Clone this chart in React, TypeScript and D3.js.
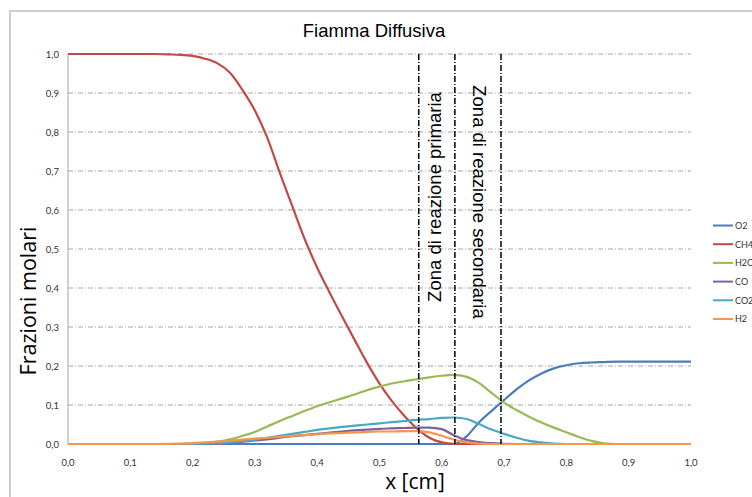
import React from "react";
import * as d3 from "d3";

const X = [0,0.02,0.04,0.06,0.08,0.1,0.12,0.14,0.16,0.18,0.2,0.22,0.24,0.26,0.28,0.3,0.32,0.34,0.36,0.38,0.4,0.42,0.44,0.46,0.48,0.5,0.52,0.54,0.56,0.58,0.6,0.62,0.64,0.66,0.68,0.7,0.72,0.74,0.76,0.78,0.8,0.82,0.84,0.86,0.88,0.9,0.92,0.94,0.96,0.98,1.0];

const O2 = [0,0,0,0,0,0,0,0,0,0,0,0,0,0,0,0,0,0,0,0,0,0,0,0,0,0,0,0,0,0,0,0,0.02,0.056,0.085,0.113,0.14,0.163,0.181,0.194,0.202,0.207,0.209,0.21,0.211,0.211,0.211,0.211,0.211,0.211,0.211];
const CH4 = [1,1,1,1,1,1,1,1,0.999,0.998,0.995,0.988,0.976,0.952,0.908,0.855,0.785,0.695,0.61,0.525,0.452,0.388,0.327,0.267,0.208,0.155,0.11,0.072,0.04,0.016,0.004,0.0005,0,0,0,0,0,0,0,0,0,0,0,0,0,0,0,0,0,0,0];
const H2O = [0,0,0,0,0,0,0,0,0,0,0.001,0.002,0.006,0.012,0.021,0.031,0.045,0.059,0.072,0.085,0.097,0.107,0.117,0.127,0.138,0.147,0.155,0.161,0.166,0.171,0.175,0.177,0.172,0.156,0.131,0.106,0.087,0.07,0.055,0.042,0.03,0.018,0.008,0.002,0,0,0,0,0,0,0];
const CO = [0,0,0,0,0,0,0,0,0,0,0,0,0.001,0.003,0.006,0.009,0.012,0.016,0.02,0.023,0.026,0.029,0.032,0.035,0.037,0.039,0.04,0.041,0.042,0.042,0.038,0.022,0.01,0.005,0.002,0.0005,0,0,0,0,0,0,0,0,0,0,0,0,0,0,0];
const CO2 = [0,0,0,0,0,0,0,0,0,0,0,0.001,0.002,0.004,0.007,0.011,0.016,0.021,0.026,0.031,0.036,0.04,0.044,0.047,0.05,0.053,0.056,0.059,0.062,0.064,0.067,0.068,0.064,0.051,0.037,0.026,0.016,0.008,0.004,0.001,0,0,0,0,0,0,0,0,0,0,0];
const H2 = [0,0,0,0,0,0,0,0,0.0005,0.001,0.002,0.004,0.006,0.009,0.011,0.014,0.016,0.018,0.021,0.023,0.025,0.027,0.028,0.03,0.031,0.032,0.032,0.033,0.033,0.03,0.021,0.011,0.004,0.001,0,0,0,0,0,0,0,0,0,0,0,0,0,0,0,0,0];

const SERIES_NAMES = ["O2", "CH4", "H2O", "CO", "CO2", "H2"];
const SERIES_VALUES = [O2, CH4, H2O, CO, CO2, H2];
const SERIES_COLORS = ["#4A7EBB", "#BE4B48", "#98B954", "#7D60A0", "#46AAC5", "#F79646"];

const X_TICKS = [0,0.1,0.2,0.3,0.4,0.5,0.6,0.7,0.8,0.9,1.0];
const Y_TICKS = [0,0.1,0.2,0.3,0.4,0.5,0.6,0.7,0.8,0.9,1.0];
const ZONE_X = [0.563, 0.621, 0.695];

const W = 752, H = 497;
const L = 68, R = 691, T = 54, B = 444;

export default function App() {
  const x = d3.scaleLinear().domain([0, 1]).range([L, R]);
  const y = d3.scaleLinear().domain([0, 1]).range([B, T]);
  const fmt = (v: number) => d3.format(".1f")(v).replace(".", ",");
  const line = d3.line<[number, number]>().x(d => x(d[0])).y(d => y(d[1])).curve(d3.curveMonotoneX);
  const tickFont = "Lato, 'Open Sans', sans-serif";
  const arial = "'Liberation Sans', Arial, sans-serif";
  return (
    <svg width={W} height={H} style={{ position: "absolute", left: 0, top: 0, background: "#fff" }}>
      <rect x={10} y={11} width={800} height={600} fill="#fff" stroke="#c0c0c0" strokeWidth={1.5} />
      <text x={374} y={37} textAnchor="middle" fontFamily={arial} fontSize={18.5} fill="#000">Fiamma Diffusiva</text>
      {Y_TICKS.filter(t => t > 0).map(t => (
        <line key={"g" + t} x1={L} x2={R} y1={y(t)} y2={y(t)} stroke="#a6a6a6" strokeWidth={1} strokeDasharray="5,2,1,2" />
      ))}
      <line x1={L} x2={L} y1={T} y2={B} stroke="#bfbfbf" strokeWidth={1.5} />
      <line x1={L} x2={R} y1={B} y2={B} stroke="#bfbfbf" strokeWidth={1.5} />
      {Y_TICKS.map(t => (
        <text key={"yt" + t} x={59} y={y(t) + 3.5} textAnchor="end" fontFamily={tickFont} fontSize={9.5} fill="#333">{fmt(t)}</text>
      ))}
      {X_TICKS.map(t => (
        <text key={"xt" + t} x={x(t)} y={466} textAnchor="middle" fontFamily={tickFont} fontSize={9.5} fill="#333">{fmt(t)}</text>
      ))}
      {SERIES_VALUES.map((vals, i) => (
        <path key={SERIES_NAMES[i]} d={line(X.map((xv, j) => [xv, vals[j]] as [number, number])) || ""} fill="none" stroke={SERIES_COLORS[i]} strokeWidth={2.2} strokeLinejoin="round" />
      ))}
      {ZONE_X.map(z => (
        <line key={"z" + z} x1={x(z)} x2={x(z)} y1={T} y2={B} stroke="#000" strokeWidth={1.5} strokeDasharray="6,2,1,2" />
      ))}
      <text transform={`translate(${435},${197}) rotate(-90)`} textAnchor="middle" fontFamily={arial} fontSize={18.5} fill="#000" dy="0.35em">Zona di reazione primaria</text>
      <text transform={`translate(${479},${202}) rotate(90)`} textAnchor="middle" fontFamily={arial} fontSize={18.5} fill="#000" dy="0.35em">Zona di reazione secondaria</text>
      <text transform={`translate(${36},${301}) rotate(-90)`} textAnchor="middle" fontFamily="'Open Sans', sans-serif" fontSize={21.5} fill="#000">Frazioni molari</text>
      <text x={415} y={489} textAnchor="middle" fontFamily="'Open Sans', sans-serif" fontSize={21} fill="#000">x [cm]</text>
      {SERIES_NAMES.map((n, i) => (
        <g key={"lg" + n}>
          <line x1={713} x2={733} y1={225.5 + i * 18.7} y2={225.5 + i * 18.7} stroke={SERIES_COLORS[i]} strokeWidth={2} />
          <text x={735} y={225.5 + i * 18.7 + 3.3} fontFamily={tickFont} fontSize={9} fill="#333">{n}</text>
        </g>
      ))}
    </svg>
  );
}
